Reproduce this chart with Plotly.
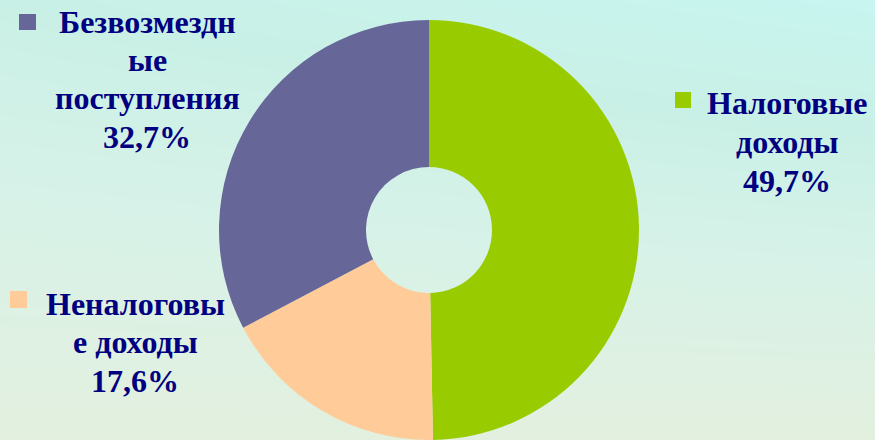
import plotly.graph_objects as go

# Data
categories = ["Налоговые доходы", "Неналоговые доходы", "Безвозмездные поступления"]
shares = [49.7, 17.6, 32.7]
label_lines = [["Налоговые", "доходы", "49,7%"],
               ["Неналоговы", "е доходы", "17,6%"],
               ["Безвозмездн", "ые", "поступления", "32,7%"]]
colors = ["#99cc00", "#ffcc99", "#666699"]

W, H = 875, 440
fig = go.Figure()

# Background gradient (hidden axes)
fig.add_trace(go.Heatmap(
    x=[0, 1], y=[0, 1], z=[[1, 1], [0.3, 0]], zsmooth="best",
    colorscale=[[0, "#c8f5f0"], [0.3, "#c9f0e6"], [0.6, "#d7f2e8"], [1, "#e3f0df"]],
    zmin=0, zmax=1, showscale=False, hoverinfo="skip"))

cx, cy, r = 429, 230, 210
fig.add_trace(go.Pie(
    labels=categories, values=shares, sort=False, direction="clockwise",
    rotation=0, hole=0.30, textinfo="none", showlegend=False,
    marker=dict(colors=colors, line=dict(width=0)),
    domain=dict(x=[(cx - r) / W, (cx + r) / W], y=[1 - (cy + r) / H, 1 - (cy - r) / H])))

FS = 32
font = dict(family="Liberation Serif", size=FS, color="#000080")

# label blocks: text center x px, baselines px, square (x0,y0,x1,y1)
blocks = [
    (787, [114, 153, 192], (675, 92, 691, 108)),
    (135, [315, 353, 392], (10, 291, 27, 308)),
    (147, [33, 71, 109, 148], (19, 14, 36, 30)),
]
for lines, col, (tx, bases, sq) in zip(label_lines, colors, blocks):
    for line, b in zip(lines, bases):
        yc = b - 0.34 * FS
        fig.add_annotation(x=tx / W, y=1 - yc / H, xref="paper", yref="paper",
                           text="<b>" + line + "</b>", showarrow=False,
                           xanchor="center", yanchor="middle", font=font)
    fig.add_shape(type="rect", xref="paper", yref="paper",
                  x0=sq[0] / W, x1=sq[2] / W, y0=1 - sq[3] / H, y1=1 - sq[1] / H,
                  fillcolor=col, line=dict(width=0))

fig.update_layout(
    width=W, height=H, margin=dict(l=0, r=0, t=0, b=0),
    paper_bgcolor="#d6f3e8", plot_bgcolor="rgba(0,0,0,0)",
    xaxis=dict(visible=False, range=[0, 1], domain=[0, 1], fixedrange=True),
    yaxis=dict(visible=False, range=[0, 1], domain=[0, 1], fixedrange=True),
)
fig.write_html("out.html", config={"displayModeBar": False},
               post_script="document.body.style.margin='0';")
